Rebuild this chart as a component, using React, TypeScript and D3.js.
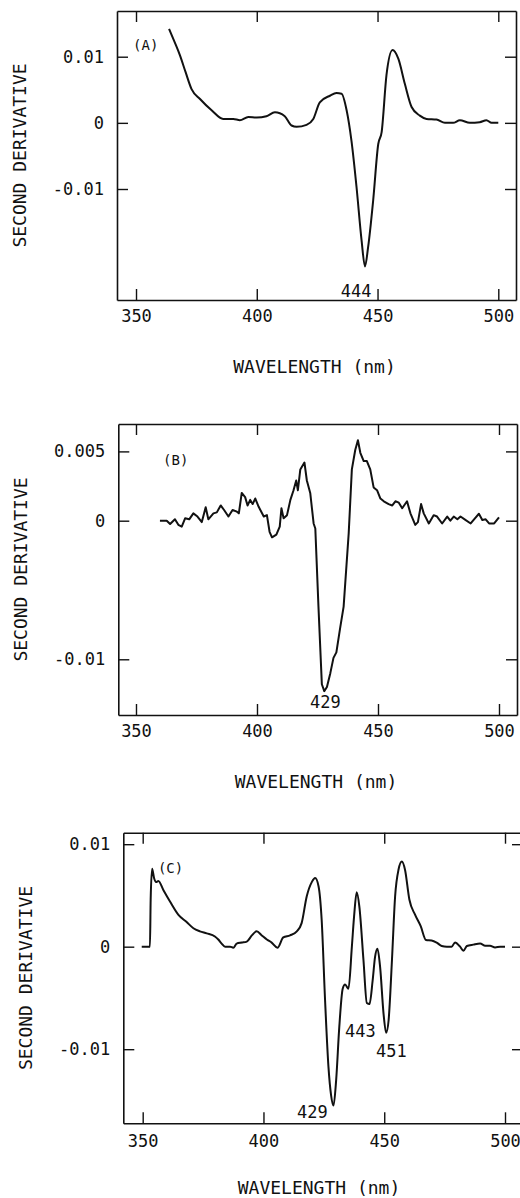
import * as d3 from 'd3';
import React, { useEffect, useRef } from 'react';

// wavelength ticks shared by the three panels
const xTicks = [350, 400, 450, 500];

// (A)
const waveA = [363.7, 366, 368.2, 370.5, 373, 376.5, 381.3, 386.1, 390.3, 393,
  396.5, 400, 404, 407.5, 411.6, 414.4, 416.5, 420.6, 423.4, 426.1,
  430.3, 433, 435.1, 437.2, 439.2, 441.3, 443.4, 444.8, 446.1, 448.2,
  450.3, 451.7, 453.7, 456.2, 458.6, 461.3, 464.1, 467.5, 470.3, 474.4,
  477.9, 481.3, 484.1, 488.2, 492.3, 495.1, 497.2, 500];
const derivA = [0.0142, 0.0122, 0.0102, 0.0077, 0.0051, 0.0036, 0.0019, 0.0006, 0.0006, 0.0004,
  0.0009, 0.0008, 0.001, 0.0016, 0.001, -0.0004, -0.0006, -0.0003, 0.0006, 0.0031,
  0.0041, 0.0045, 0.0044, 0.0019, -0.0027, -0.0097, -0.0178, -0.0217, -0.0188, -0.0117,
  -0.0032, -0.0014, 0.0072, 0.011, 0.0097, 0.0059, 0.0024, 0.0011, 0.0006, 0.0005,
  0, 0, 0.0004, 0, 0.0001, 0.0004, 0, 0];
const yTicksA = [0.01, 0, -0.01];
const yLabelsA = ['0.01', '0', '-0.01'];

// (B)
const waveB = [359.9, 362.7, 364.1, 366.1, 367.5, 368.9, 370.3, 372, 373.7, 375.4,
  377.2, 378.8, 379.9, 382, 383.4, 385, 386.4, 388.2, 389.9, 391.7,
  392.5, 393.7, 395.1, 396.1, 397.2, 398.2, 399.3, 400.7, 402.8, 404.1,
  405.2, 406.2, 408, 409.4, 410.1, 411, 412.4, 413.8, 415.1, 416.2,
  416.9, 417.9, 419.6, 420.6, 422, 423.4, 424.1, 425.4, 426.8, 427.8,
  428.9, 430.3, 431.6, 432.8, 434.4, 435.8, 437.9, 439.2, 440.6, 441.7,
  442.7, 444.1, 445.4, 446.8, 448.2, 449.6, 451, 452.4, 454.4, 455.9,
  457.2, 458.6, 460, 462, 463.4, 465.4, 466.5, 467.8, 468.9, 471,
  473, 474.4, 476.5, 478.6, 479.9, 481.3, 482.8, 484.1, 485.8, 488.3,
  489.7, 491.7, 493.1, 494.5, 495.9, 498, 500];
const derivB = [0, 0, -0.00024, 0.0001, -0.0003, -0.00043, 0.00017, 0.0001, 0.00053, 0.0003,
  -0.0001, 0.00097, 0.0001, 0.00053, 0.0006, 0.0011, 0.00077, 0.0003, 0.00077, 0.00065,
  0.00053, 0.002, 0.0017, 0.0011, 0.0015, 0.0012, 0.0016, 0.001, 0.0003, 0.0004,
  -0.0008, -0.0012, -0.001, -0.00043, 0.0009, 0.00017, 0.0004, 0.0015, 0.0022, 0.0029,
  0.0022, 0.0037, 0.0042, 0.0029, 0.002, -0.0002, -0.00056, -0.0062, -0.0118, -0.0123,
  -0.012, -0.011, -0.0099, -0.0095, -0.0077, -0.0062, -0.0009, 0.0037, 0.0051, 0.0058,
  0.0049, 0.0043, 0.0043, 0.0037, 0.0024, 0.0022, 0.0016, 0.0014, 0.0012, 0.0011,
  0.0014, 0.0013, 0.0009, 0.0014, 0.00053, -0.0003, -0.0001, 0.0012, 0.00053, -0.0002,
  0.0004, 0.0003, -0.0002, 0.0003, 0, 0.0003, 0.0001, 0.0003, 0.0001, -0.0002,
  0.0001, 0.0005, 0.00005, 0.0001, -0.0002, -0.0002, 0.00024];
const yTicksB = [0.005, 0, -0.01];
const yLabelsB = ['0.005', '0', '-0.01'];

// (C)
const waveC = [349.6, 353, 353.3, 353.9, 354.7, 355.5, 356.5, 358.6, 361.3, 364.8,
  368.2, 371, 373.7, 376.5, 379.9, 381.3, 382.7, 384.1, 386.2, 387.5,
  388.9, 391, 393.1, 395.2, 397.2, 399.3, 401.4, 403.4, 405.8, 408.2,
  411, 413.8, 415.8, 417.9, 420, 421.4, 422.8, 424.1, 425.5, 426.9,
  428, 429, 430.1, 431.4, 432.8, 433.8, 435.2, 436.6, 437.5, 438.6,
  439.7, 441.4, 442.8, 443.9, 445.2, 446.2, 447.2, 448.3, 449.7, 450.8,
  451.8, 453.2, 454.5, 455.9, 457.3, 458.6, 460.4, 462.8, 465.1, 467.3,
  469.6, 471.7, 473.8, 475.9, 477.9, 479.3, 481.4, 482.8, 484.2, 486.9,
  489.7, 491.8, 493.8, 495.9, 498, 500];
const derivC = [0, 0, 0.0046, 0.0076, 0.0067, 0.0063, 0.0064, 0.0055, 0.0044, 0.0031,
  0.0024, 0.0018, 0.0015, 0.0013, 0.001, 0.0007, 0.0003, 0, 0, -0.0001,
  0.0003, 0.0004, 0.0005, 0.0011, 0.0015, 0.0011, 0.0007, 0.0004, -0.0001, 0.0009,
  0.0011, 0.0015, 0.0023, 0.0049, 0.0063, 0.0067, 0.0059, 0.0026, -0.0052, -0.0117,
  -0.0145, -0.0155, -0.013, -0.0078, -0.0041, -0.0037, -0.0041, 0, 0.0029, 0.0053,
  0.0039, -0.0013, -0.0055, -0.0056, -0.0033, -0.001, -0.0002, -0.002, -0.0065, -0.0084,
  -0.0072, -0.0013, 0.0049, 0.0075, 0.0083, 0.0075, 0.0046, 0.0031, 0.002, 0.00065,
  0.0006, 0.0004, 0.00007, 0, 0, 0.0004, 0, -0.0004, 0.00007, 0.0002,
  0.0003, 0.0001, 0.0001, -0.00007, 0, 0];
const yTicksC = [0.01, 0, -0.01];
const yLabelsC = ['0.01', '0', '-0.01'];

// text placed in data units: [label, wavelength, value at baseline]
const notesA: [string, number, number][] = [['(A)', 348.8, 0.011], ['444', 434.8, -0.0263]];
const notesB: [string, number, number][] = [['(B)', 361.2, 0.004], ['429', 421.9, -0.0135]];
const notesC: [string, number, number][] = [['(C)', 356.3, 0.0072], ['429', 413.9, -0.0167], ['443', 433.8, -0.0088], ['451', 446.6, -0.0108]];

const FONT = '"DejaVu Sans Mono", monospace';

const panels = [
  { wave: waveA, deriv: derivA, yTicks: yTicksA, yLabels: yLabelsA, notes: notesA, smooth: true,
    left: 117, right: 516, top: 11, bottom: 300, xDomain: [342.13, 507.33], yDomain: [-0.02678, 0.01691],
    xPad: 10, titleX: 314.5, titleY: 373 },
  { wave: waveB, deriv: derivB, yTicks: yTicksB, yLabels: yLabelsB, notes: notesB, smooth: false,
    left: 118.3, right: 517, top: 424, bottom: 715, xDomain: [342.69, 507.44], yDomain: [-0.01402, 0.006977],
    xPad: 10, titleX: 316, titleY: 788 },
  { wave: waveC, deriv: derivC, yTicks: yTicksC, yLabels: yLabelsC, notes: notesC, smooth: true,
    left: 123.3, right: 523, top: 832.7, bottom: 1123.3, xDomain: [341.97, 507.45], yDomain: [-0.01723, 0.01112],
    xPad: 12, titleX: 319, titleY: 1194 },
];

function styleAxis(g: any) {
  g.select('.domain').attr('stroke', '#111').attr('stroke-width', 1.6);
  g.selectAll('.tick line').attr('stroke', '#111').attr('stroke-width', 1.4);
  g.selectAll('.tick text').attr('fill', '#111').attr('font-family', FONT).attr('font-size', 17);
}

export default function App() {
  const ref = useRef<SVGSVGElement>(null);

  useEffect(() => {
    const svg = d3.select(ref.current);
    svg.selectAll('*').remove();
    svg.append('rect').attr('width', 520).attr('height', 1198).attr('fill', '#fff');

    panels.forEach(function (p) {
      const x = d3.scaleLinear().domain(p.xDomain).range([p.left, p.right]);
      const y = d3.scaleLinear().domain(p.yDomain).range([p.bottom, p.top]);
      const g = svg.append('g');

      g.append('g').attr('transform', 'translate(0,' + p.bottom + ')')
        .call(d3.axisBottom(x).tickValues(xTicks).tickSize(-11).tickSizeOuter(0).tickPadding(p.xPad).tickFormat(d3.format('d')))
        .call(styleAxis);
      g.append('g').attr('transform', 'translate(0,' + p.top + ')')
        .call(d3.axisTop(x).tickValues(xTicks).tickSize(-11).tickSizeOuter(0).tickFormat(() => ''))
        .call(styleAxis);
      g.append('g').attr('transform', 'translate(' + p.left + ',0)')
        .call(d3.axisLeft(y).tickValues(p.yTicks).tickSize(-11).tickSizeOuter(0).tickPadding(13)
          .tickFormat((d, i) => p.yLabels[i]))
        .call(styleAxis);
      g.append('g').attr('transform', 'translate(' + p.right + ',0)')
        .call(d3.axisRight(y).tickValues(p.yTicks).tickSize(-11).tickSizeOuter(0).tickFormat(() => ''))
        .call(styleAxis);

      const pts = p.wave.map((w, i) => [w, p.deriv[i]] as [number, number]);
      const line = d3.line<[number, number]>()
        .x(d => x(d[0]))
        .y(d => y(d[1]))
        .curve(p.smooth ? d3.curveMonotoneX : d3.curveLinear);
      g.append('path').datum(pts)
        .attr('d', line)
        .attr('fill', 'none')
        .attr('stroke', '#111')
        .attr('stroke-width', 2)
        .attr('stroke-linejoin', 'round');

      g.selectAll('text.note').data(p.notes).enter().append('text')
        .attr('class', 'note')
        .attr('x', d => x(d[1]))
        .attr('y', d => y(d[2]))
        .attr('font-family', FONT)
        .attr('font-size', d => (d[0].startsWith('(') ? 14 : 17))
        .attr('fill', '#111')
        .text(d => d[0]);

      const cy = (p.top + p.bottom) / 2;
      g.append('text')
        .attr('transform', 'translate(' + (p.left - 98 + 6.5) + ',' + cy + ') rotate(-90)')
        .attr('text-anchor', 'middle')
        .attr('font-family', FONT)
        .attr('font-size', 18)
        .attr('fill', '#111')
        .text('SECOND DERIVATIVE');
      g.append('text')
        .attr('x', p.titleX)
        .attr('y', p.titleY)
        .attr('text-anchor', 'middle')
        .attr('font-family', FONT)
        .attr('font-size', 18)
        .attr('fill', '#111')
        .text('WAVELENGTH (nm)');
    });
  }, []);

  return (
    <div style={{ position: 'absolute', left: 0, top: 0 }}>
      <svg ref={ref} width={520} height={1198} style={{ display: 'block' }} />
    </div>
  );
}
